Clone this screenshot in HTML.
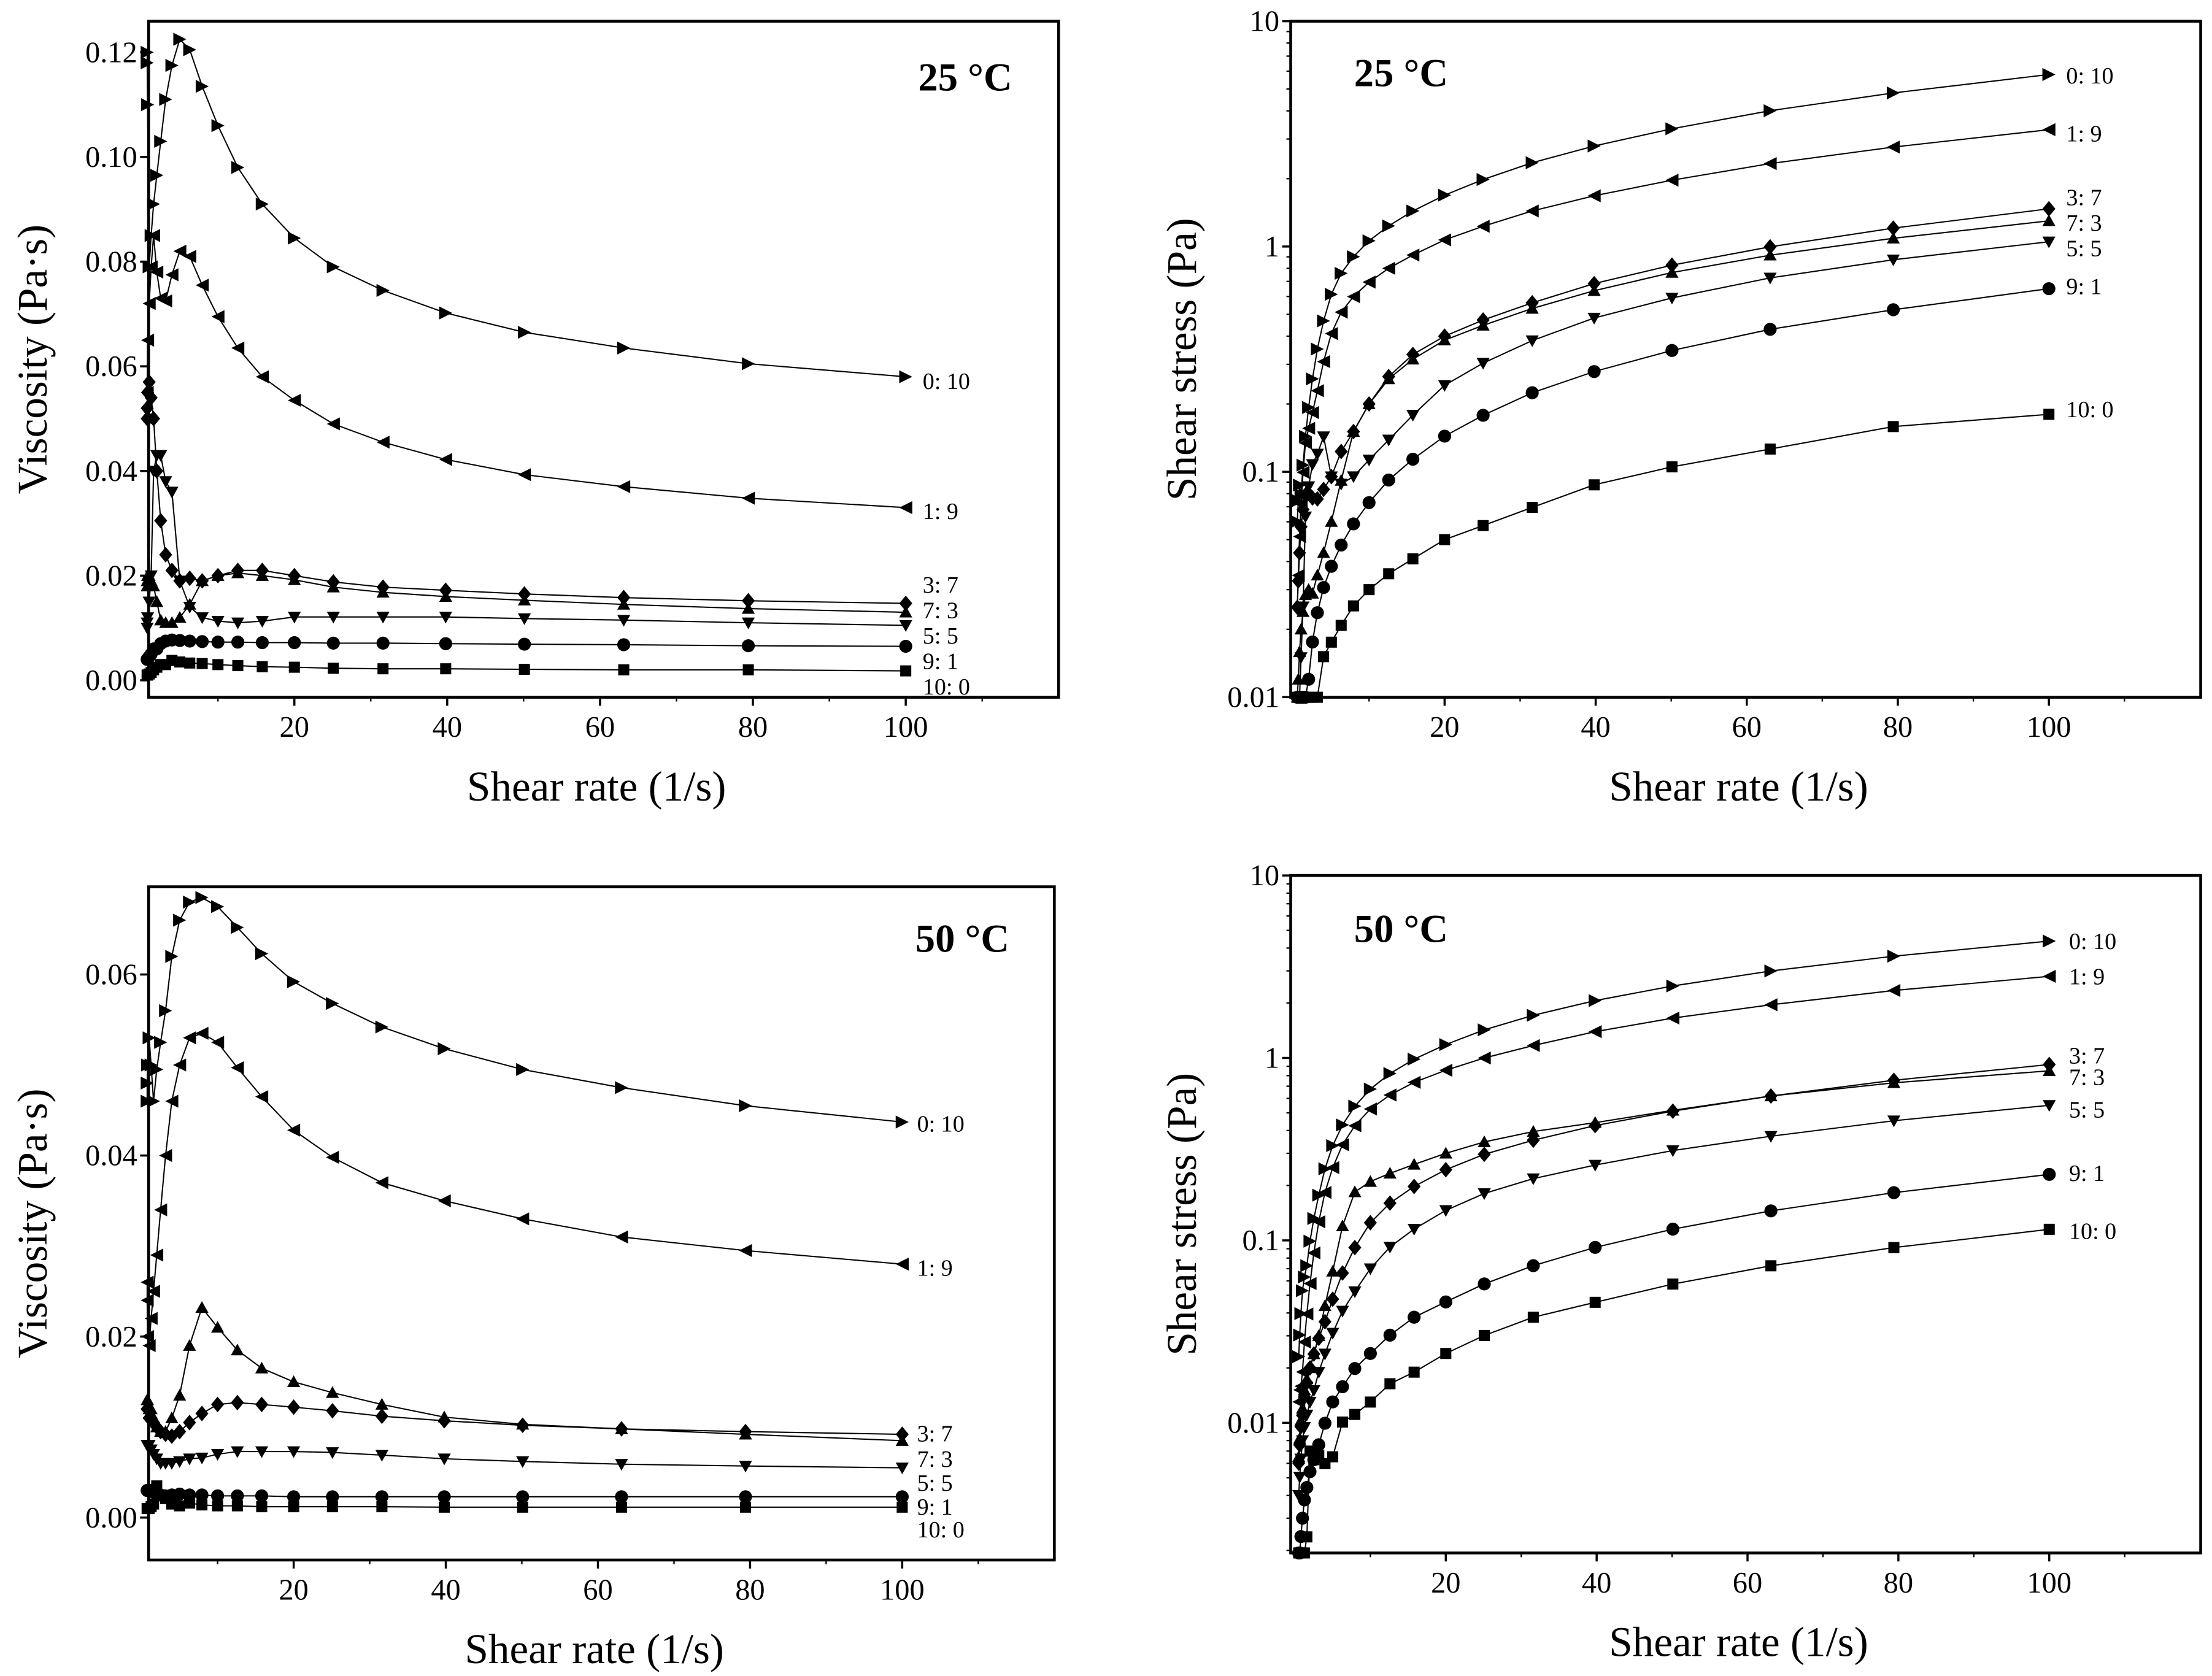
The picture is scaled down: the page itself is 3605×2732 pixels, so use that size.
<!DOCTYPE html>
<html><head><meta charset="utf-8"><style>
html,body{margin:0;padding:0;background:#fff;}
svg{display:block;font-family:"Liberation Serif",serif;}
</style></head><body>
<svg id="fig" width="3605" height="2732" viewBox="0 0 1563 1185" preserveAspectRatio="none" xmlns="http://www.w3.org/2000/svg"></svg>
<script>
const rates=[100,79.4,63.1,50.1,39.8,31.6,25.1,20,15.8,12.6,10,7.94,6.31,5.01,3.98,3.16,2.51,2,1.58,1.26,1,0.794,0.631,0.501];
const seriesNames=["0: 10","1: 9","3: 7","7: 3","5: 5","9: 1","10: 0"];
const markers=["right","left","diamond","up","down","circle","square"];
// 25 °C viscosity
const v25_0_10=[0.058,0.0605,0.0635,0.0665,0.0702,0.0745,0.079,0.0845,0.091,0.098,0.106,0.1135,0.1205,0.1225,0.1175,0.111,0.103,0.0965,0.091,0.085,0.079,0.11,0.118,0.12];
const v25_1_9=[0.033,0.0348,0.037,0.0393,0.0422,0.0455,0.049,0.0535,0.058,0.0635,0.0695,0.0755,0.081,0.082,0.0775,0.0725,0.073,0.078,0.085,0.079,0.072,0.065,0.055,0.05];
const v25_3_7=[0.0147,0.0152,0.0158,0.0165,0.0172,0.0178,0.0188,0.0200,0.0210,0.0210,0.0200,0.0190,0.0195,0.0190,0.0210,0.0240,0.0305,0.040,0.050,0.054,0.057,0.055,0.052,0.05];
const v25_7_3=[0.013,0.0137,0.0145,0.0153,0.016,0.0168,0.0178,0.0192,0.0200,0.0205,0.0200,0.0190,0.0145,0.0120,0.0110,0.0110,0.0115,0.0150,0.0180,0.0190,0.0200,0.0200,0.019,0.018];
const v25_5_5=[0.0105,0.011,0.0115,0.0118,0.0121,0.0121,0.0121,0.0121,0.0113,0.0110,0.0113,0.0120,0.0140,0.0190,0.0360,0.0380,0.0430,0.0430,0.0400,0.0200,0.0150,0.012,0.011,0.01];
const v25_9_1=[0.0065,0.0066,0.0068,0.0069,0.0070,0.0071,0.0071,0.0072,0.0072,0.0073,0.0073,0.0074,0.0075,0.0076,0.0077,0.0075,0.0070,0.0060,0.0060,0.0050,0.0045,0.004,0.004,0.004];
const v25_10_0=[0.0018,0.0020,0.0020,0.0021,0.0022,0.0022,0.0023,0.0025,0.0026,0.0028,0.0030,0.0032,0.0033,0.0035,0.0038,0.0030,0.0030,0.0025,0.0020,0.0015,0.0012,0.001,0.001,0.001];
// 50 °C viscosity
const v50_0_10=[0.0437,0.0455,0.0475,0.0495,0.0518,0.0542,0.0568,0.0592,0.0623,0.0652,0.0675,0.0685,0.068,0.066,0.062,0.056,0.0525,0.0495,0.046,0.05,0.053,0.05,0.048,0.046];
const v50_1_9=[0.028,0.0295,0.031,0.033,0.035,0.037,0.0398,0.0428,0.0465,0.0497,0.0525,0.0535,0.053,0.050,0.046,0.040,0.034,0.029,0.025,0.022,0.019,0.02,0.024,0.026];
const v50_3_7=[0.0092,0.0095,0.0098,0.0102,0.0107,0.0112,0.0118,0.0122,0.0125,0.0127,0.0125,0.0115,0.0105,0.0095,0.009,0.0092,0.0095,0.0100,0.0105,0.011,0.011,0.012,0.012,0.012];
const v50_7_3=[0.0085,0.0092,0.0098,0.0103,0.0111,0.0125,0.0138,0.015,0.0165,0.0185,0.021,0.0232,0.019,0.0135,0.011,0.0095,0.0095,0.010,0.011,0.012,0.012,0.013,0.013,0.013];
const v50_5_5=[0.0055,0.0057,0.0059,0.0062,0.0065,0.0069,0.0072,0.0073,0.0073,0.0073,0.0070,0.0066,0.0065,0.0062,0.006,0.006,0.006,0.0065,0.007,0.0075,0.008,0.008,0.008,0.008];
const v50_9_1=[0.0023,0.0023,0.0023,0.0023,0.0023,0.0023,0.0023,0.0023,0.0024,0.0024,0.0024,0.0025,0.0025,0.0026,0.0025,0.0024,0.0025,0.0027,0.0028,0.003,0.003,0.003,0.003,0.003];
const v50_10_0=[0.00115,0.00115,0.00115,0.00115,0.00115,0.0012,0.0012,0.0012,0.0012,0.0013,0.0013,0.0014,0.0016,0.0013,0.0015,0.0021,0.0025,0.0035,0.0015,0.0012,0.001,0.001,0.001,0.001];
const v25=[v25_0_10,v25_1_9,v25_3_7,v25_7_3,v25_5_5,v25_9_1,v25_10_0];
const v50=[v50_0_10,v50_1_9,v50_3_7,v50_7_3,v50_5_5,v50_9_1,v50_10_0];
const xTicks=[20,40,60,80,100];
const linTicks25=[0,0.02,0.04,0.06,0.08,0.10,0.12];
const linTicks50=[0,0.02,0.04,0.06];
const logTicks=[10,1,0.1,0.01];

const NS="http://www.w3.org/2000/svg";
const svg=document.getElementById('fig');
function mk(tag,attrs,parent){const e=document.createElementNS(NS,tag);for(const k in attrs)e.setAttribute(k,attrs[k]);(parent||svg).appendChild(e);return e;}

function marker(g,type,x,y){
  const r=4.6;let e;
  if(type==="circle"){e=mk('circle',{cx:x,cy:y,r:r},g);}
  else if(type==="square"){e=mk('rect',{x:x-r*0.85,y:y-r*0.85,width:r*1.7,height:r*1.7},g);}
  else{
    let p;
    if(type==="right")p=[[x+r,y],[x-r,y-r],[x-r,y+r]];
    else if(type==="left")p=[[x-r,y],[x+r,y-r],[x+r,y+r]];
    else if(type==="up")p=[[x,y-r],[x-r,y+r*0.8],[x+r,y+r*0.8]];
    else if(type==="down")p=[[x,y+r],[x-r,y-r*0.8],[x+r,y-r*0.8]];
    else p=[[x,y-r*1.2],[x+r,y],[x,y+r*1.2],[x-r,y]];
    e=mk('polygon',{points:p.map(q=>q.join(',')).join(' ')},g);
  }
  
  
  e.setAttribute('fill','#000');
}

function panel(cfg){
  const g=mk('g',{});
  
  
  const X=v=>cfg.x0+v*cfg.xs;
  const Y=cfg.log?(v=>cfg.ytop+(Math.log10(cfg.ymaxLog)-Math.log10(v))*cfg.dec):(v=>cfg.y0-v*cfg.ys);
  cfg.data.forEach((arr,si)=>{
    const sg=mk('g',{},g);
    
    
    const pts=arr.map((v,i)=>{const yv=cfg.log?v*rates[i]:v;return [Math.max(X(rates[i]),cfg.L-1),Math.min(Y(yv),cfg.B)];});
    const pl=mk('polyline',{points:pts.map(p=>p.join(',')).join(' '),fill:'none',stroke:'#000','stroke-width':0.9},sg);
    
    
    pts.forEach(p=>marker(sg,markers[si],p[0],p[1]));
    const t=mk('text',{x:cfg.lblX,y:cfg.lblY[si],'font-size':16.5},sg);
    
    
    t.textContent=seriesNames[si];
  });
  const f=mk('rect',{x:cfg.L,y:cfg.T,width:cfg.R-cfg.L,height:cfg.B-cfg.T,fill:'none',stroke:'#000','stroke-width':2},g);
  
  
  xTicks.forEach(v=>{
    mk('line',{x1:X(v),x2:X(v),y1:cfg.B,y2:cfg.B+6,stroke:'#000','stroke-width':1.5},g);
    const t=mk('text',{x:X(v),y:cfg.B+28,'font-size':21,'text-anchor':'middle'},g);
    
    
    t.textContent=v;
  });
  for(let v=10;v<=110;v+=20)mk('line',{x1:X(v),x2:X(v),y1:cfg.B,y2:cfg.B+3,stroke:'#000','stroke-width':1},g);
  cfg.yt.forEach(v=>{
    const y=Y(v);
    mk('line',{x1:cfg.L-6,x2:cfg.L,y1:y,y2:y,stroke:'#000','stroke-width':1.5},g);
    const t=mk('text',{x:cfg.L-8,y:y+7,'font-size':21,'text-anchor':'end'},g);
    
    
    t.textContent=cfg.log?String(v):v.toFixed(2);
  });
  if(cfg.log){
    for(let d=-3;d<1;d++)for(let m=2;m<10;m++){const v=m*Math.pow(10,d);const y=Y(v);if(y<=cfg.B&&y>=cfg.T)mk('line',{x1:cfg.L-3,x2:cfg.L,y1:y,y2:y,stroke:'#000','stroke-width':1},g);}
  }
  const xl=mk('text',{x:(cfg.L+cfg.R)/2-5,y:cfg.B+73,'font-size':30,'text-anchor':'middle'},g);
  
  
  xl.textContent='Shear rate (1/s)';
  const yl=mk('text',{x:0,y:0,'font-size':30,'text-anchor':'middle',transform:`translate(${cfg.ylX},${(cfg.T+cfg.B)/2}) rotate(-90)`},g);
  
  
  yl.textContent=cfg.ytitle;
  const tt=mk('text',{x:cfg.tX,y:cfg.tY,'font-size':28,'font-weight':'bold','text-anchor':'middle'},g);
  
  
  tt.textContent=cfg.title;
}

panel({name:'viscosity-25c',L:105,R:748,T:15,B:493,x0:100,xs:5.4,y0:481,ys:3700,data:v25,yt:linTicks25,log:false,
  lblX:652,lblY:[275,367,419,437,455,473,491],ylX:33,ytitle:'Viscosity (Pa·s)',title:'25 °C',tX:682,tY:64});
panel({name:'shear-stress-25c',L:912,R:1555,T:15,B:493,x0:914,xs:5.3375,log:true,ytop:15,ymaxLog:10,dec:159.3,data:v25,yt:logTicks,
  lblX:1460,lblY:[59,100,145,163,181,208,295],ylX:845,ytitle:'Shear stress (Pa)',title:'25 °C',tX:990,tY:61});
panel({name:'viscosity-50c',L:105,R:745,T:627,B:1103,x0:100,xs:5.375,y0:1073,ys:6400,data:v50,yt:linTicks50,log:false,
  lblX:648,lblY:[800,902,1019,1037,1054,1071,1087],ylX:33,ytitle:'Viscosity (Pa·s)',title:'50 °C',tX:680,tY:673});
panel({name:'shear-stress-50c',L:912,R:1555,T:619,B:1098,x0:915,xs:5.33,log:true,ytop:619,ymaxLog:10,dec:129,data:v50,yt:logTicks,
  lblX:1462,lblY:[671,696,752,767,790,835,876],ylX:845,ytitle:'Shear stress (Pa)',title:'50 °C',tX:990,tY:666});
</script>
</body></html>
